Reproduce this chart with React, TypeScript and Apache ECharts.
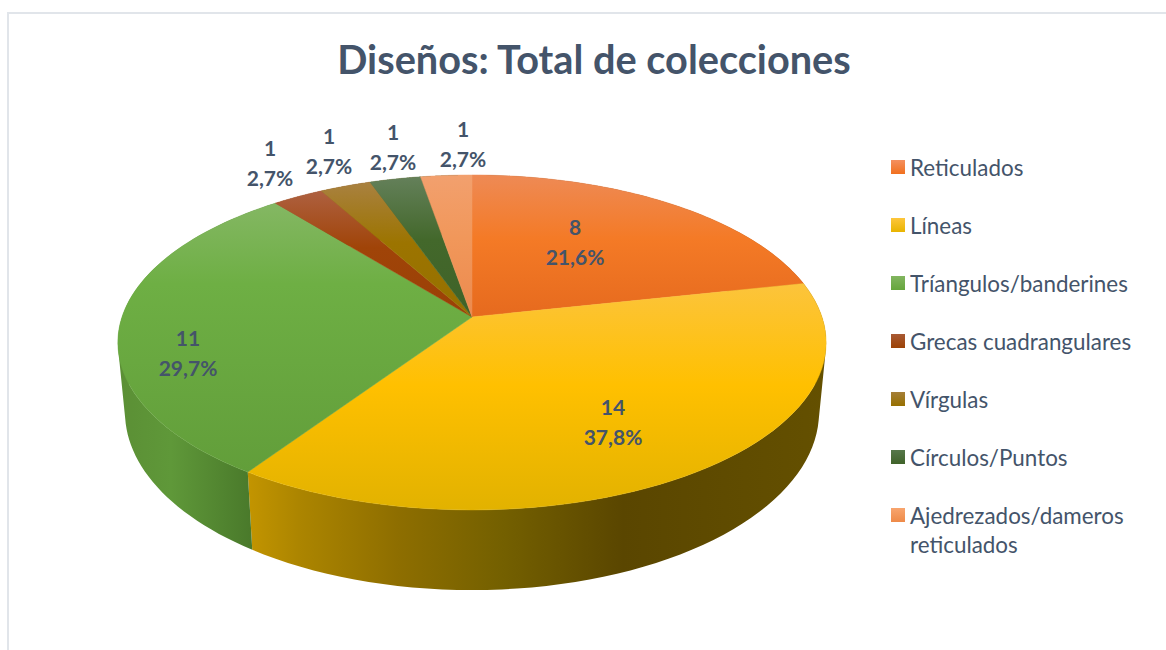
import React, { useEffect, useRef } from "react";
import * as echarts from "echarts";

const TITLE = "Diseños: Total de colecciones";
const CATEGORIES = [
  "Reticulados",
  "Líneas",
  "Tríangulos/banderines",
  "Grecas cuadrangulares",
  "Vírgulas",
  "Círculos/Puntos",
  "Ajedrezados/dameros\nreticulados",
];
const VALUES = [8, 14, 11, 1, 1, 1, 1];

// face colours: [rim highlight, mid, front shade]
const FACE_COLORS = [
  ["#EE8A55", "#F47A26", "#E66A1E"],
  ["#FCC43C", "#FFC000", "#E2B200"],
  ["#84B763", "#6EAF44", "#629E3A"],
  ["#AE6040", "#A04408", "#9A4006"],
  ["#A98140", "#9C7400", "#967000"],
  ["#64805A", "#43682B", "#3F6228"],
  ["#F2A06E", "#F1975A", "#EC8A4E"],
];
const FACE_MID_STOPS = [0.45, 0.45, 0.3, 0.45, 0.45, 0.45, 0.45];
const SWATCH_COLORS = [
  ["#F49060", "#F1701E"],
  ["#FDC63C", "#E8B400"],
  ["#82B560", "#66A63C"],
  ["#A85A34", "#9C4206"],
  ["#A57F38", "#977000"],
  ["#56774A", "#40632A"],
  ["#F8A56E", "#EE8A48"],
];
const GREEN_WALL = [
  [0, "#5B8F35"],
  [0.4, "#5F9839"],
  [1, "#4A7A2B"],
];
const YELLOW_WALL = [
  [0, "#C39500"],
  [0.09, "#AC8500"],
  [0.26, "#8E6E00"],
  [0.44, "#746000"],
  [0.65, "#5A4600"],
  [1, "#645000"],
];
const BACK_WALLS = ["#8A4A18", "#6F3008", "#6B5000", "#2F4A1E"];

// centre of each data label (two lines)
const LABEL_CENTERS = [
  [575, 241],
  [613, 421],
  [188, 352],
  [270, 162],
  [329, 150],
  [393, 146],
  [463, 143],
];

const TOTAL = VALUES.reduce((a, b) => a + b, 0);
const CUM = VALUES.map((_, i) => VALUES.slice(0, i).reduce((a, b) => a + b, 0));

const TOP_FACE = { cx: 472, cy: 317, R: 350, B: 163.6, k: 0.152 };
const BOTTOM_FACE = { cx: 472, cy: 385, R: 343, B: 173.9, k: 0.152 };
const STEPS = 64;

const TEXT_COLOR = "#44546A";
const LEGEND_FONT_SIZE = 22.4;

function project(f: any, theta: number) {
  const u = Math.sin(theta);
  const v = Math.cos(theta);
  const d = 1 + f.k * v;
  return [f.cx + (f.R * u) / d, f.cy - (f.B * v) / d];
}

function rim(f: any, start: number, end: number) {
  const pts: number[][] = [];
  for (let i = 0; i <= STEPS; i++) {
    pts.push(project(f, start + ((end - start) * i) / STEPS));
  }
  return pts;
}

function sliceAngles(i: number, value: number) {
  const start = (CUM[i] / TOTAL) * Math.PI * 2;
  return [start, start + (value / TOTAL) * Math.PI * 2];
}

function gradient(x0: number, y0: number, x1: number, y1: number, stops: any[], global: boolean) {
  return new echarts.graphic.LinearGradient(
    x0,
    y0,
    x1,
    y1,
    stops.map((s) => ({ offset: s[0], color: s[1] })),
    global
  );
}

function wallFill(i: number) {
  if (i === 1) return gradient(247, 0, 826, 0, YELLOW_WALL, true);
  if (i === 2) return gradient(118, 0, 250, 0, GREEN_WALL, true);
  return i === 0 ? BACK_WALLS[0] : BACK_WALLS[Math.min(i - 3, 3)];
}

function signedArea(pts: number[][]) {
  let area = 0;
  pts.forEach((p, n) => {
    const q = pts[(n + 1) % pts.length];
    area += p[0] * q[1] - q[0] * p[1];
  });
  return area;
}

function renderWall(params: any, api: any) {
  const i = params.dataIndex;
  const [a, b] = sliceAngles(i, api.value(0));
  const top = rim(TOP_FACE, a, b);
  const bottom = rim(BOTTOM_FACE, a, b);
  let pathData = "";
  for (let s = 0; s < STEPS; s++) {
    // every quad is one sub-path of a single path, wound the same way, so no seams or holes show
    let quad = [top[s], top[s + 1], bottom[s + 1], bottom[s]];
    if (signedArea(quad) < 0) quad = quad.slice().reverse();
    pathData += "M" + quad.map((p) => `${p[0].toFixed(2)} ${p[1].toFixed(2)}`).join("L") + "Z";
  }
  return {
    type: "path",
    silent: true,
    shape: { pathData },
    style: { fill: wallFill(i) },
  };
}

function renderTop(i: number) {
  return (_params: any, api: any) => {
    const value = api.value(0);
    const [a, b] = sliceAngles(i, value);
    const points = [[TOP_FACE.cx, TOP_FACE.cy]].concat(rim(TOP_FACE, a, b));
    const c = FACE_COLORS[i];
    const fill = gradient(0, 0, 0, 1, [
      [0, c[0]],
      [FACE_MID_STOPS[i], c[1]],
      [1, c[2]],
    ], false);
    const pct = ((value / TOTAL) * 100).toFixed(1).replace(".", ",");
    return {
      type: "group",
      children: [
        {
          type: "polygon",
          silent: true,
          shape: { points },
          style: { fill, stroke: fill, lineWidth: 0.5 },
        },
        {
          type: "text",
          silent: true,
          z2: 50,
          x: LABEL_CENTERS[i][0],
          y: LABEL_CENTERS[i][1],
          style: {
            text: `${value}\n${pct}%`,
            fill: TEXT_COLOR,
            font: "bold 21px Lato",
            lineHeight: 30,
            align: "center",
            verticalAlign: "middle",
          },
        },
      ],
    };
  };
}

function legendItem(name: string, i: number) {
  return {
    name,
    itemStyle: {
      color: new echarts.graphic.LinearGradient(0, 0, 0, 1, [
        { offset: 0, color: SWATCH_COLORS[i][0] },
        { offset: 1, color: SWATCH_COLORS[i][1] },
      ]),
    },
  };
}

export default function App() {
  const ref = useRef<HTMLDivElement>(null);

  useEffect(() => {
    document.body.style.margin = "0";
    document.body.style.overflow = "hidden";
    const chart = echarts.init(ref.current!, null, { renderer: "svg" });
    const wrapped = CATEGORIES[CATEGORIES.length - 1].split("\n");
    chart.setOption({
      animation: false,
      backgroundColor: "#FFFFFF",
      title: {
        text: TITLE,
        left: 589,
        top: 53,
        textAlign: "center",
        textVerticalAlign: "middle",
        textStyle: {
          color: TEXT_COLOR,
          fontFamily: "Lato",
          fontWeight: "bold",
          fontSize: 39.7,
        },
      },
      legend: {
        orient: "vertical",
        left: 891,
        top: 153,
        padding: 0,
        itemWidth: 14,
        itemHeight: 14,
        itemGap: 30,
        selectedMode: false,
        icon: "rect",
        textStyle: {
          color: TEXT_COLOR,
          fontFamily: "Lato",
          fontSize: LEGEND_FONT_SIZE,
          lineHeight: 28,
        },
        // the legend centres a symbol on its whole text, so the wrapped second line is placed below
        formatter: (name: string) => name.split("\n")[0],
        data: CATEGORIES.map(legendItem),
      },
      graphic: [
        {
          type: "line",
          silent: true,
          shape: { x1: 7, y1: 13, x2: 1166, y2: 13 },
          style: { stroke: "#E1E5EA", lineWidth: 2 },
        },
        {
          type: "line",
          silent: true,
          shape: { x1: 8, y1: 13, x2: 8, y2: 650 },
          style: { stroke: "#E1E5EA", lineWidth: 2 },
        },
        {
          type: "text",
          silent: true,
          x: 910,
          y: 544,
          style: {
            text: wrapped[1],
            fill: TEXT_COLOR,
            font: `${LEGEND_FONT_SIZE}px Lato`,
            align: "left",
            verticalAlign: "middle",
          },
        },
      ],
      series: [
        {
          type: "custom",
          name: "Paredes",
          coordinateSystem: "none",
          silent: true,
          z: 1,
          data: VALUES,
          renderItem: renderWall,
        },
        ...CATEGORIES.map((name, i) => ({
          type: "custom",
          name,
          coordinateSystem: "none",
          silent: true,
          z: 2,
          data: [VALUES[i]],
          itemStyle: { color: SWATCH_COLORS[i][1] },
          renderItem: renderTop(i),
        })),
      ],
    });
    return () => chart.dispose();
  }, []);

  return (
    <div
      ref={ref}
      style={{ position: "fixed", left: 0, top: 0, width: 1166, height: 650 }}
    />
  );
}
